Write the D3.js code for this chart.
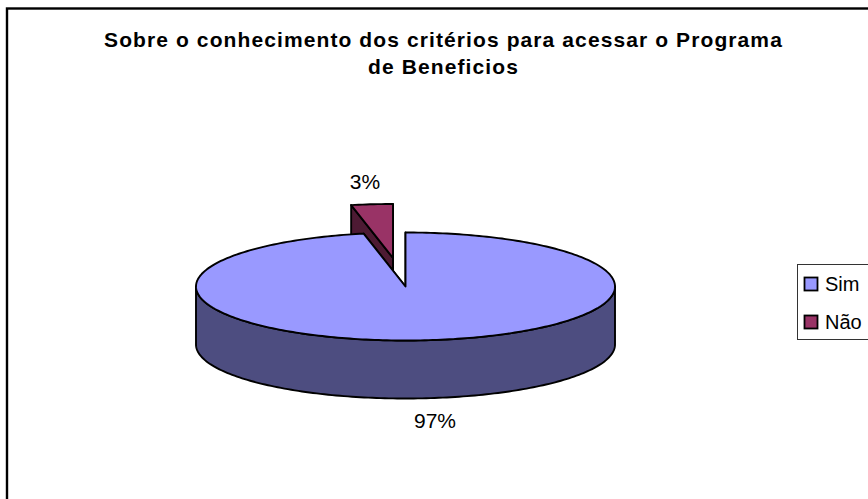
<!DOCTYPE html>
<html>
<head>
<meta charset="utf-8">
<script src="https://cdn.jsdelivr.net/npm/d3@7"></script>
<style>
  html, body { margin: 0; padding: 0; background: #fff; overflow: hidden; }
  text { font-family: "Liberation Sans", Arial, sans-serif; fill: #000; }
</style>
</head>
<body>
<svg width="868" height="499"></svg>
<script>
const titleLines = ["Sobre o conhecimento dos critérios para acessar o Programa", "de Beneficios"]
const categories = ["Sim", "Não"]
// labels on the chart are rounded, the wedge reads a bit wider than 3%
const values = [96.8, 3.2]
const topColors = ["#9999ff", "#993366"]
const sideColors = ["#4d4d80", "#4d1a33"]

const svg = d3.select("svg")

const cx = 405.5, cy = 286.5, rx = 209.5, ry = 54, depth = 58
const explode = { x: -12.5, y: -28.5 }

// frame runs off the right and bottom of the picture
svg.append("rect")
  .attr("x", 7).attr("y", 8.5)
  .attr("width", 900).attr("height", 600)
  .attr("fill", "#fff").attr("stroke", "#000").attr("stroke-width", 2.4)

svg.append("g").selectAll("text")
  .data(titleLines)
  .enter().append("text")
  .attr("x", 443.5)
  .attr("y", (d, i) => 46.5 + i * 27.5)
  .attr("text-anchor", "middle")
  .attr("font-size", 21)
  .attr("font-weight", "bold")
  .attr("letter-spacing", 1.1)
  .text(d => d)

const pie = d3.pie().sort(null).startAngle(0).endAngle(2 * Math.PI)
const arcs = pie(values)

const line = d3.line().x(d => d[0]).y(d => d[1])

function pt(a, dy) {
  return [cx + rx * Math.sin(a), cy - ry * Math.cos(a) + dy]
}
function arcPoints(a0, a1, dy) {
  const n = Math.max(2, Math.ceil((a1 - a0) / 0.02))
  return d3.range(n + 1).map(i => pt(a0 + (a1 - a0) * i / n, dy))
}

function drawSlice(g, d, i) {
  const a0 = d.startAngle, a1 = d.endAngle
  const base = [cx, cy]
  const baseLow = [cx, cy + depth]
  const stroke = s => s.attr("stroke", "#000").attr("stroke-width", 1.9).attr("stroke-linejoin", "round")

  // cut faces, the far parts get hidden by whatever is drawn later
  ;[a0, a1].forEach(a => {
    g.append("path")
      .attr("d", line([base, pt(a, 0), pt(a, depth), baseLow]) + "Z")
      .attr("fill", sideColors[i]).call(stroke)
  })

  // outer wall, front half only
  const w0 = Math.max(a0, Math.PI / 2), w1 = Math.min(a1, 3 * Math.PI / 2)
  if (w1 > w0) {
    const wall = arcPoints(w0, w1, 0).concat(arcPoints(w0, w1, depth).reverse())
    g.append("path").attr("d", line(wall) + "Z")
      .attr("fill", sideColors[i]).call(stroke)
  }

  const top = [base].concat(arcPoints(a0, a1, 0))
  g.append("path").attr("d", line(top) + "Z")
    .attr("fill", topColors[i]).call(stroke)
}

// small slice goes first, the big one covers its lower part
svg.append("g")
  .attr("transform", "translate(" + explode.x + "," + explode.y + ")")
  .call(g => drawSlice(g, arcs[1], 1))
svg.append("g").call(g => drawSlice(g, arcs[0], 0))

const labelPos = [[435, 428], [365, 189]]
svg.append("g").selectAll("text")
  .data(values)
  .enter().append("text")
  .attr("x", (d, i) => labelPos[i][0])
  .attr("y", (d, i) => labelPos[i][1])
  .attr("text-anchor", "middle")
  .attr("font-size", 21)
  .text(d => Math.round(d) + "%")

// legend
svg.append("rect")
  .attr("x", 797.5).attr("y", 264.5)
  .attr("width", 90).attr("height", 75)
  .attr("fill", "#fff").attr("stroke", "#333").attr("stroke-width", 1)

const legend = svg.append("g").selectAll("g")
  .data(categories)
  .enter().append("g")
  .attr("transform", (d, i) => "translate(0," + (284 + i * 38) + ")")

legend.append("rect")
  .attr("x", 804.5).attr("y", -6.5)
  .attr("width", 13).attr("height", 13)
  .attr("fill", (d, i) => topColors[i])
  .attr("stroke", "#000").attr("stroke-width", 1.8)

legend.append("text")
  .attr("x", 825).attr("y", 7)
  .attr("font-size", 20)
  .text(d => d)
</script>
</body>
</html>
